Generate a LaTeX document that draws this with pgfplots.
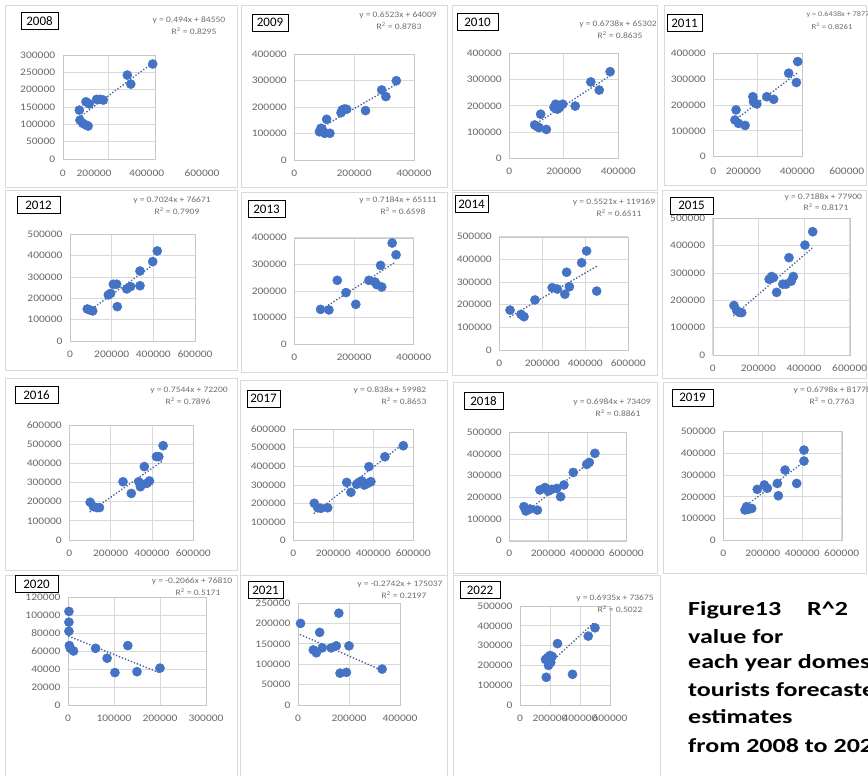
\documentclass[border=0pt]{standalone}
\usepackage{fontspec}
\setmainfont{Carlito}
\newfontfamily\wfont{Carlito}[FakeStretch=1.15]
\newfontfamily\capfont{Carlito}[FakeStretch=1.3]
\usepackage{pgfplots}
\pgfplotsset{compat=1.18}
\definecolor{xlblue}{RGB}{68,114,196}
\definecolor{xltrend}{RGB}{62,92,150}
\definecolor{ticktxt}{RGB}{105,105,105}
\definecolor{eqtxt}{RGB}{110,110,110}
\pgfplotsset{
 pan/.style={scale only axis, anchor=north west, xmin=0, ymin=0, clip=false,
   axis line style={draw=gray!45}, grid=major, major grid style={draw=gray!30, line width=0.7pt},
   tick style={draw=none},
   ticklabel style={font=\wfont\fontsize{10}{10}\selectfont, text=ticktxt},
   /pgf/number format/assume math mode=true,
   /pgf/number format/fixed, /pgf/number format/precision=0, /pgf/number format/1000 sep={},
   scaled ticks=false, xticklabel shift=6pt, yticklabel shift=4pt},
 dots/.style={only marks, mark=*, mark size=4.6pt, mark options={fill=xlblue, draw=xlblue}},
 trend/.style={no marks, draw=xltrend, line width=1.9pt, dash pattern=on 0.01pt off 3.2pt, line cap=round},
}
\newcommand{\yearbox}[4]{\node[draw=black, line width=0.9pt, inner sep=0pt, minimum width=#3pt, minimum height=17pt, font=\fontsize{13}{13}\selectfont] at (#1pt,-#2pt) {#4};}
\newcommand{\eqn}[5]{\node[font=\wfont\fontsize{8.3}{8.3}\selectfont, text=eqtxt] at (#1pt,-#2pt) {#3};
 \node[font=\wfont\fontsize{8.3}{8.3}\selectfont, text=eqtxt] at (#4pt,-#2pt-11pt) {R\textsuperscript{2} = #5};}
\newcommand{\xl}[2]{\node[font=\wfont\fontsize{10}{10}\selectfont, text=ticktxt] at (rel axis cs:#1,0) [yshift=-14.5pt] {#2};}
\begin{document}
\begin{tikzpicture}
\useasboundingbox (0pt,0pt) rectangle (868pt,-776pt);
\fill[white] (0pt,0pt) rectangle (868pt,-776pt);
\clip (0pt,0pt) rectangle (868pt,-776pt);
% frames
\foreach \a/\b/\c/\d in {5/5/237/187, 241/5/447/187, 452/5/657/190, 664/5/866/185,
  5/190/237/370, 241/192/447/372, 452/192/657/375, 662/190/866/378,
  5/378/237/570, 240/380/447/575, 453/382/657/573, 663/382/866/573,
  5/575/237/776, 240/575/447/776, 453/575/660/776}
  {\draw[gray!30, line width=0.8pt] (\a pt,-\b pt) rectangle (\c pt,-\d pt);}

% 2008
\begin{axis}[pan, at={(62.7pt,-55pt)}, width=92.3pt, height=104pt, xmax=400000, ymax=300000,
  xtick={200000}, xticklabels={}, ytick distance=50000]
\addplot[dots] coordinates {(72000,141000) (75000,112000) (87000,103000) (101000,98000) (110000,95000) (101000,165000) (115000,159000) (147000,172000) (162000,172000) (176000,170000) (280000,242000) (295000,216000) (390000,274000)};
\addplot[trend] coordinates {(72000,120118) (390000,277210)};
\xl{0}{0}\xl{0.34}{200000}\xl{0.91}{400000}\xl{1.51}{600000}
\end{axis}
\yearbox{39.5}{21}{37}{2008}
\eqn{189}{20}{y = 0.494x + 84550}{194}{0.8295}

% 2009
\begin{axis}[pan, at={(294.3pt,-54.3pt)}, width=119.7pt, height=105.7pt, xmax=400000, ymax=400000,
  xtick distance=200000, ytick distance=100000]
\addplot[dots] coordinates {(84000,107000) (89000,120000) (94000,114000) (102000,101000) (108000,154000) (119000,101000) (156000,179000) (160000,189000) (167000,193000) (175000,192000) (238000,187000) (292000,265000) (306000,240000) (341000,300000)};
\addplot[trend] coordinates {(84000,118802) (341000,286443)};
\end{axis}
\yearbox{270}{22.5}{36}{2009}
\eqn{398}{15}{y = 0.6523x + 64009}{399}{0.8783}

% 2010
\begin{axis}[pan, at={(509.3pt,-53.3pt)}, width=109pt, height=105pt, xmax=400000, ymax=400000,
  xtick distance=200000, ytick distance=100000]
\addplot[dots] coordinates {(93000,127000) (102000,121000) (109000,117000) (115000,168000) (136000,110000) (164000,194000) (170000,206000) (176000,187000) (184000,193000) (196000,206000) (242000,199000) (299000,291000) (330000,260000) (370000,330000)};
\addplot[trend] coordinates {(93000,127965) (370000,314608)};
\end{axis}
\yearbox{477.5}{22}{41}{2010}
\eqn{618}{24}{y = 0.6738x + 65302}{620}{0.8635}

% 2011
\begin{axis}[pan, at={(713.3pt,-53.3pt)}, width=88.4pt, height=103.4pt, xmax=400000, ymax=400000,
  xtick={200000}, xticklabels={}, ytick distance=100000]
\addplot[dots] coordinates {(98000,142000) (103000,181000) (114000,129000) (144000,121000) (179000,232000) (182000,213000) (197000,204000) (242000,232000) (273000,222000) (341000,323000) (376000,287000) (382000,368000)};
\addplot[trend] coordinates {(98000,141862) (382000,324702)};
\xl{0}{0}\xl{0.34}{200000}\xl{0.95}{400000}\xl{1.51}{600000}
\end{axis}
\yearbox{684.5}{23}{35}{2011}
\node[anchor=west, font=\wfont\fontsize{7.2}{7.2}\selectfont, text=eqtxt] at (803pt,-15pt) {y = 0.6438x + 78770};
\node[font=\wfont\fontsize{7.6}{7.6}\selectfont, text=eqtxt] at (832pt,-26pt) {R\textsuperscript{2} = 0.8261};

% 2012
\begin{axis}[pan, at={(70pt,-234.3pt)}, width=125pt, height=106.7pt, xmax=600000, ymax=500000,
  xtick distance=200000, ytick distance=100000]
\addplot[dots] coordinates {(83000,150000) (96000,145000) (109000,141000) (184000,216000) (195000,223000) (208000,266000) (224000,266000) (227000,161000) (272000,244000) (291000,255000) (336000,259000) (336000,328000) (397000,372000) (419000,422000)};
\addplot[trend] coordinates {(83000,134970) (419000,370977)};
\end{axis}
\yearbox{38.5}{205}{43}{2012}
\eqn{172}{200}{y = 0.7024x + 76671}{177}{0.7909}

% 2013
\begin{axis}[pan, at={(294.3pt,-237.7pt)}, width=119.4pt, height=106.6pt, xmax=400000, ymax=400000,
  xtick distance=200000, ytick distance=100000]
\addplot[dots] coordinates {(88000,131000) (116000,129000) (144000,240000) (173000,194000) (206000,150000) (250000,240000) (270000,234000) (276000,224000) (293000,215000) (289000,296000) (328000,380000) (341000,336000)};
\addplot[trend] coordinates {(88000,128330) (341000,310085)};
\end{axis}
\yearbox{266.5}{209}{37}{2013}
\eqn{398}{200}{y = 0.7184x + 65111}{403}{0.6598}

% 2014
\begin{axis}[pan, at={(499.3pt,-236.7pt)}, width=129pt, height=113.3pt, xmax=600000, ymax=500000,
  xtick distance=200000, ytick distance=100000]
\addplot[dots] coordinates {(50000,176000) (101000,157000) (115000,147000) (166000,221000) (246000,275000) (270000,269000) (305000,246000) (313000,343000) (326000,279000) (383000,385000) (406000,437000) (453000,260000)};
\addplot[trend] coordinates {(50000,146774) (453000,369270)};
\end{axis}
\yearbox{471.5}{204}{33}{2014}
\eqn{614}{202}{y = 0.5521x + 119169}{619}{0.6511}

% 2015
\begin{axis}[pan, at={(712.7pt,-218.3pt)}, width=137pt, height=136.7pt, xmax=600000, ymax=500000,
  xtick distance=200000, ytick distance=100000]
\addplot[dots] coordinates {(93000,181000) (105000,163000) (117000,156000) (127000,155000) (247000,277000) (258000,287000) (266000,283000) (280000,229000) (307000,259000) (321000,259000) (334000,356000) (344000,270000) (353000,287000) (404000,402000) (438000,451000)};
\addplot[trend] coordinates {(93000,144748) (438000,392734)};
\end{axis}
\yearbox{691.5}{205.5}{43}{2015}
\node[anchor=west, font=\wfont\fontsize{8.3}{8.3}\selectfont, text=eqtxt] at (781pt,-197pt) {y = 0.7188x + 77900};
\node[font=\wfont\fontsize{8.3}{8.3}\selectfont, text=eqtxt] at (826pt,-207pt) {R\textsuperscript{2} = 0.8171};

% 2016
\begin{axis}[pan, at={(69.3pt,-425pt)}, width=124pt, height=115pt, xmax=600000, ymax=600000,
  xtick distance=200000, ytick distance=100000]
\addplot[dots] coordinates {(101000,197000) (117000,174000) (133000,169000) (146000,169000) (260000,304000) (300000,243000) (336000,304000) (344000,278000) (352000,290000) (363000,383000) (376000,296000) (388000,308000) (422000,435000) (433000,435000) (454000,492000)};
\addplot[trend] coordinates {(101000,148394) (454000,414698)};
\end{axis}
\yearbox{36.5}{395}{43}{2016}
\eqn{189}{390}{y = 0.7544x + 72200}{188}{0.7896}

% 2017
\begin{axis}[pan, at={(293.3pt,-429pt)}, width=120pt, height=111.7pt, xmax=600000, ymax=600000,
  xtick distance=200000, ytick distance=100000]
\addplot[dots] coordinates {(105000,201000) (122000,177000) (138000,174000) (172000,177000) (267000,313000) (288000,260000) (317000,303000) (328000,313000) (342000,321000) (355000,299000) (372000,308000) (378000,398000) (388000,317000) (458000,451000) (550000,510000)};
\addplot[trend] coordinates {(105000,147972) (550000,520882)};
\end{axis}
\yearbox{263.5}{398.5}{33}{2017}
\eqn{390}{390}{y = 0.838x + 59982}{404}{0.8653}

% 2018
\begin{axis}[pan, at={(509.3pt,-432.3pt)}, width=117pt, height=108.4pt, xmax=600000, ymax=500000,
  xtick distance=200000, ytick distance=100000]
\addplot[dots] coordinates {(75000,157000) (85000,137000) (106000,146000) (144000,141000) (157000,234000) (183000,245000) (200000,229000) (217000,237000) (243000,241000) (263000,203000) (280000,257000) (328000,315000) (397000,352000) (410000,361000) (439000,403000)};
\addplot[trend] coordinates {(75000,125789) (439000,380007)};
\end{axis}
\yearbox{483.5}{401}{39}{2018}
\eqn{612}{402}{y = 0.6984x + 73409}{618}{0.8861}

% 2019
\begin{axis}[pan, at={(723.3pt,-431pt)}, width=118.4pt, height=109.7pt, xmax=600000, ymax=500000,
  xtick distance=200000, ytick distance=100000]
\addplot[dots] coordinates {(110000,140000) (118000,155000) (127000,143000) (144000,147000) (172000,234000) (208000,254000) (223000,239000) (274000,261000) (279000,205000) (313000,322000) (372000,261000) (409000,363000) (409000,413000)};
\addplot[trend] coordinates {(110000,156556) (409000,359816)};
\end{axis}
\yearbox{692.5}{397.5}{41}{2019}
\node[anchor=west, font=\wfont\fontsize{8.3}{8.3}\selectfont, text=eqtxt] at (790pt,-390pt) {y = 0.6798x + 81778};
\node[font=\wfont\fontsize{8.3}{8.3}\selectfont, text=eqtxt] at (832pt,-401pt) {R\textsuperscript{2} = 0.7763};

% 2020
\begin{axis}[pan, at={(68pt,-597pt)}, width=138pt, height=108pt, xmax=300000, ymax=120000,
  xtick distance=100000, ytick distance=20000]
\addplot[dots] coordinates {(2000,104000) (2000,92000) (2000,82000) (3000,66000) (5000,63000) (12000,60000) (60000,63000) (85000,52000) (102000,36000) (130000,66000) (150000,37000) (200000,41000)};
\addplot[trend] coordinates {(2000,76397) (200000,35490)};
\end{axis}
\yearbox{36.5}{584}{43}{2020}
\eqn{192}{581}{y = -0.2066x + 76810}{198}{0.5171}

% 2021
\begin{axis}[pan, at={(298pt,-603pt)}, width=102pt, height=102pt, xmax=400000, ymax=250000,
  xtick distance=200000, ytick distance=50000]
\addplot[dots] coordinates {(10000,200000) (60000,135000) (72000,128000) (85000,178000) (95000,140000) (130000,140000) (150000,145000) (160000,225000) (165000,78000) (190000,80000) (200000,145000) (330000,88000)};
\addplot[trend] coordinates {(10000,172295) (330000,84551)};
\end{axis}
\yearbox{265.5}{590}{35}{2021}
\eqn{400}{584}{y = -0.2742x + 175037}{404}{0.2197}

% 2022
\begin{axis}[pan, at={(520pt,-606pt)}, width=90pt, height=99pt, xmax=600000, ymax=500000,
  xtick distance=200000, ytick distance=100000]
\addplot[dots] coordinates {(170000,230000) (175000,140000) (185000,240000) (190000,200000) (200000,250000) (205000,215000) (215000,245000) (250000,310000) (350000,155000) (455000,348000) (500000,390000)};
\addplot[trend] coordinates {(170000,191570) (500000,420425)};
\end{axis}
\yearbox{480}{590}{40}{2022}
\eqn{615}{598}{y = 0.6935x + 73675}{620}{0.5022}

% caption
\begin{scope}[every node/.style={anchor=west, font=\capfont\bfseries\fontsize{20}{20}\selectfont, inner sep=0pt}]
\node at (688pt,-610pt) {Figure13\hspace{26pt}R\textasciicircum 2};
\node at (688pt,-637pt) {value for};
\node at (688pt,-663pt) {each year domestic};
\node at (688pt,-690pt) {tourists forecasted};
\node at (688pt,-717pt) {estimates};
\node at (688pt,-746pt) {from 2008 to 2022};
\end{scope}
\end{tikzpicture}
\end{document}
